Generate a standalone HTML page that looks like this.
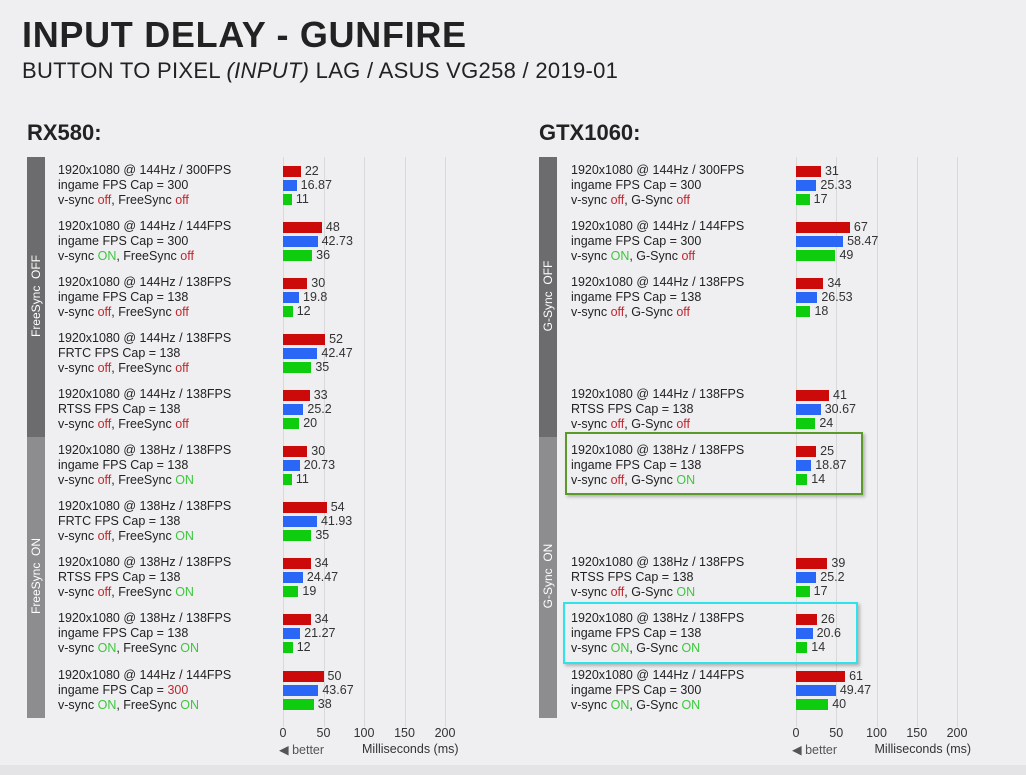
<!DOCTYPE html>
<html><head><meta charset="utf-8"><style>
body{margin:0;width:1026px;height:775px;background:#efeef0;font-family:"Liberation Sans",sans-serif;overflow:hidden;position:relative;color:#222}
.a{position:absolute;white-space:nowrap}
.r{color:#c0282f}.g{color:#3cc83c}
</style></head><body>
<div class="a" style="left:22px;top:14px;font-size:36px;font-weight:bold;letter-spacing:0.7px">INPUT DELAY - GUNFIRE</div>
<div class="a" style="left:22px;top:58px;font-size:22px;letter-spacing:0.3px">BUTTON TO PIXEL <i>(INPUT)</i> LAG / ASUS VG258 / 2019-01</div>
<div class="a" style="left:27px;top:120px;font-size:22px;font-weight:bold">RX580:</div>
<div class="a" style="left:539px;top:120px;font-size:22px;font-weight:bold">GTX1060:</div>
<div id="root"></div>
<div class="a" style="left:0;top:765px;width:1026px;height:10px;background:#e4e3e6"></div>
<script>
const slotsY=[170,226,282,338,394,450,506,562,618,675];
const leftRed=[22,48,30,52,33,30,54,34,34,50];
const leftBlue=[16.87,42.73,19.8,42.47,25.2,20.73,41.93,24.47,21.27,43.67];
const leftGreen=[11,36,12,35,20,11,35,19,12,38];
const leftL1=["1920x1080 @ 144Hz / 300FPS","1920x1080 @ 144Hz / 144FPS","1920x1080 @ 144Hz / 138FPS","1920x1080 @ 144Hz / 138FPS","1920x1080 @ 144Hz / 138FPS","1920x1080 @ 138Hz / 138FPS","1920x1080 @ 138Hz / 138FPS","1920x1080 @ 138Hz / 138FPS","1920x1080 @ 138Hz / 138FPS","1920x1080 @ 144Hz / 144FPS"];
const leftL2=["ingame FPS Cap = 300","ingame FPS Cap = 300","ingame FPS Cap = 138","FRTC FPS Cap = 138","RTSS FPS Cap = 138","ingame FPS Cap = 138","FRTC FPS Cap = 138","RTSS FPS Cap = 138","ingame FPS Cap = 138",'ingame FPS Cap = <span class="r">300</span>'];
const leftL3=['v-sync <span class="r">off</span>, FreeSync <span class="r">off</span>','v-sync <span class="g">ON</span>, FreeSync <span class="r">off</span>','v-sync <span class="r">off</span>, FreeSync <span class="r">off</span>','v-sync <span class="r">off</span>, FreeSync <span class="r">off</span>','v-sync <span class="r">off</span>, FreeSync <span class="r">off</span>','v-sync <span class="r">off</span>, FreeSync <span class="g">ON</span>','v-sync <span class="r">off</span>, FreeSync <span class="g">ON</span>','v-sync <span class="r">off</span>, FreeSync <span class="g">ON</span>','v-sync <span class="g">ON</span>, FreeSync <span class="g">ON</span>','v-sync <span class="g">ON</span>, FreeSync <span class="g">ON</span>'];
const rightSlots=[0,1,2,4,5,7,8,9];
const rightRed=[31,67,34,41,25,39,26,61];
const rightBlue=[25.33,58.47,26.53,30.67,18.87,25.2,20.6,49.47];
const rightGreen=[17,49,18,24,14,17,14,40];
const rightL1=["1920x1080 @ 144Hz / 300FPS","1920x1080 @ 144Hz / 144FPS","1920x1080 @ 144Hz / 138FPS","1920x1080 @ 144Hz / 138FPS","1920x1080 @ 138Hz / 138FPS","1920x1080 @ 138Hz / 138FPS","1920x1080 @ 138Hz / 138FPS","1920x1080 @ 144Hz / 144FPS"];
const rightL2=["ingame FPS Cap = 300","ingame FPS Cap = 300","ingame FPS Cap = 138","RTSS FPS Cap = 138","ingame FPS Cap = 138","RTSS FPS Cap = 138","ingame FPS Cap = 138","ingame FPS Cap = 300"];
const rightL3=['v-sync <span class="r">off</span>, G-Sync <span class="r">off</span>','v-sync <span class="g">ON</span>, G-Sync <span class="r">off</span>','v-sync <span class="r">off</span>, G-Sync <span class="r">off</span>','v-sync <span class="r">off</span>, G-Sync <span class="r">off</span>','v-sync <span class="r">off</span>, G-Sync <span class="g">ON</span>','v-sync <span class="r">off</span>, G-Sync <span class="g">ON</span>','v-sync <span class="g">ON</span>, G-Sync <span class="g">ON</span>','v-sync <span class="g">ON</span>, G-Sync <span class="g">ON</span>'];
const ticks=[0,50,100,150,200];
const colors=["#cc0a0a","#2b67f6","#0ecc0e"];
const root=document.getElementById('root');
function el(html,style,name,inter){const d=document.createElement('div');d.className='a';d.style.cssText=style;d.innerHTML=html;


root.appendChild(d);return d;}
function panel(p,x0,scale,sideX,labelX,slots,reds,blues,greens,l1,l2,l3,offTxt,onTxt){
  const xs=v=>x0+v*scale;
  el('', `left:${sideX}px;top:157px;width:18px;height:280px;background:#6c6b6d`,p+'-sidebar-off',false);
  el('', `left:${sideX}px;top:437px;width:18px;height:281px;background:#8d8c8e`,p+'-sidebar-on',false);
  el(offTxt,`left:${sideX+9-60}px;top:${297-8}px;width:120px;text-align:center;color:#fff;font-size:12px;transform:rotate(-90deg)`,p+'-off-label',false);
  el(onTxt,`left:${sideX+9-60}px;top:${577-8}px;width:120px;text-align:center;color:#fff;font-size:12px;transform:rotate(-90deg)`,p+'-on-label',false);
  ticks.forEach(t=>{
    el('',`left:${Math.round(xs(t))}px;top:157px;width:1px;height:570px;background:#d9d8da`,p+'-gridline-'+t,false);
    el(String(t),`left:${xs(t)-20}px;top:726px;width:40px;text-align:center;font-size:12.5px;color:#333`,p+'-tick-'+t,false);
  });
  el('◀ better',`left:${x0-4}px;top:742px;font-size:12.5px;color:#555`,p+'-better-label',false);
  el('Milliseconds (ms)',`left:${xs(100)-2}px;top:742px;font-size:12.5px;color:#333`,p+'-axis-title',false);
  for(let i=0;i<reds.length;i++){
    const y=slotsY[slots[i]];
    el(l1[i]+'<br>'+l2[i]+'<br>'+l3[i],`left:${labelX}px;top:${y-7}px;font-size:12.5px;line-height:15px`,p+'-row-label-'+i,false);
    [reds[i],blues[i],greens[i]].forEach((v,k)=>{
      const by=y-4+k*14;
      el('',`left:${x0}px;top:${by}px;width:${v*scale}px;height:11px;background:${colors[k]}`,p+'-bar-'+i+'-'+['red','blue','green'][k],false);
      el(String(v),`left:${xs(v)+4}px;top:${by-2}px;font-size:12.5px;color:#333`,p+'-value-'+i+'-'+k,false);
    });
  }
}
panel('rx580',283,0.81,27,58,slotsY.map((_,i)=>i),leftRed,leftBlue,leftGreen,leftL1,leftL2,leftL3,'FreeSync&nbsp; OFF','FreeSync&nbsp; ON');
panel('gtx1060',796,0.805,539,571,rightSlots,rightRed,rightBlue,rightGreen,rightL1,rightL2,rightL3,'G-Sync&nbsp; OFF','G-Sync&nbsp; ON');
el('',`left:565px;top:432px;width:294px;height:59px;border:2px solid #5a9a28;box-shadow:2px 2px 3px rgba(0,0,0,0.25)`,'highlight-box-green',false);
el('',`left:563px;top:602px;width:291px;height:58px;border:2px solid #2fe3ea;box-shadow:2px 2px 3px rgba(0,0,0,0.25)`,'highlight-box-cyan',false);
</script>
</body></html>
